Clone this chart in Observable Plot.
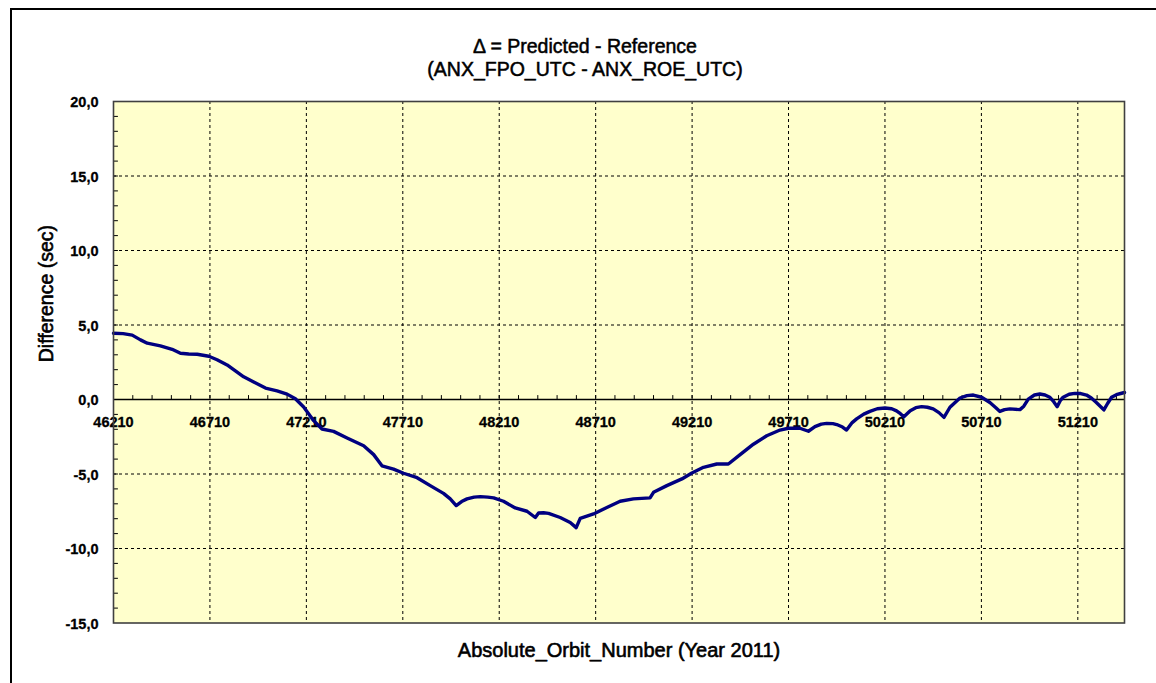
<!DOCTYPE html>
<html><head><meta charset="utf-8">
<script src="https://cdn.jsdelivr.net/npm/d3@7"></script>
<script src="https://cdn.jsdelivr.net/npm/@observablehq/plot@0.6"></script>
<style>
html,body{margin:0;padding:0;background:#fff;overflow:hidden;}
#wrap{position:relative;width:1156px;height:683px;overflow:hidden;font-family:"Liberation Sans",Arial,sans-serif;}
#frame{position:absolute;left:10px;top:8px;width:1300px;height:800px;border:2px solid #000;box-sizing:border-box;pointer-events:none;}
#title{height:90px;box-sizing:border-box;padding-top:35px;padding-left:14px;text-align:center;font-size:19.5px;line-height:23px;color:#000;-webkit-text-stroke:0.5px #000;}
#chart svg{display:block;}
</style></head><body>
<div id="wrap"><div id="frame"></div>
<div id="title"><div>Δ = Predicted - Reference</div><div>(ANX_FPO_UTC - ANX_ROE_UTC)</div></div>
<div id="chart"></div></div>
<script>
const orbits = [46210,46260,46307,46350,46385,46453,46514,46557,46600,46644,46704,46747,46799,46842,46885,46937,46998,47058,47110,47153,47196,47248,47291,47351,47421,47507,47559,47602,47662,47714,47784,47861,47921,47956,47987,48015,48043,48080,48112,48150,48181,48232,48293,48354,48397,48414,48440,48466,48526,48578,48609,48630,48699,48768,48837,48906,48992,49010,49079,49157,49209,49269,49338,49398,49459,49528,49597,49666,49709,49769,49813,49847,49880,49908,49940,49960,49990,50011,50040,50063,50100,50132,50170,50210,50245,50270,50290,50308,50341,50370,50400,50430,50460,50490,50516,50547,50575,50599,50635,50668,50711,50754,50785,50806,50830,50858,50910,50930,50953,50985,51013,51040,51065,51085,51103,51120,51134,51165,51194,51225,51255,51280,51306,51330,51345,51365,51385,51410,51437,51452];
const diffs = [4.45,4.42,4.32,4.0,3.78,3.6,3.37,3.1,3.05,3.04,2.9,2.67,2.32,1.92,1.52,1.18,0.77,0.58,0.36,0.05,-0.5,-1.42,-1.98,-2.14,-2.58,-3.1,-3.7,-4.45,-4.67,-4.95,-5.25,-5.85,-6.3,-6.67,-7.12,-6.85,-6.67,-6.55,-6.52,-6.55,-6.6,-6.83,-7.28,-7.5,-7.92,-7.62,-7.6,-7.64,-7.92,-8.25,-8.6,-7.98,-7.68,-7.25,-6.83,-6.67,-6.6,-6.23,-5.78,-5.33,-4.93,-4.55,-4.33,-4.33,-3.7,-3.0,-2.43,-2.05,-1.93,-1.93,-2.13,-1.82,-1.65,-1.6,-1.62,-1.68,-1.85,-2.05,-1.55,-1.3,-0.98,-0.8,-0.62,-0.57,-0.62,-0.76,-0.95,-1.16,-0.75,-0.55,-0.48,-0.52,-0.63,-0.88,-1.2,-0.52,-0.18,0.1,0.26,0.3,0.15,-0.2,-0.55,-0.8,-0.68,-0.63,-0.68,-0.45,0.03,0.3,0.37,0.3,0.15,-0.15,-0.48,-0.05,0.15,0.35,0.41,0.4,0.3,0.1,-0.2,-0.5,-0.7,-0.25,0.15,0.32,0.42,0.47];

const xTicks = [46210,46710,47210,47710,48210,48710,49210,49710,50210,50710,51210];
const xTickLabels = ["46210","46710","47210","47710","48210","48710","49210","49710","50210","50710","51210"];
const yTicks = [20,15,10,5,0,-5,-10,-15];
const yTickLabels = ["20,0","15,0","10,0","5,0","0,0","-5,0","-10,0","-15,0"];
const yGridValues = [15,10,5,-5,-10];
const xGridValues = [46710,47210,47710,48210,48710,49210,49710,50210,50710,51210];
const xMinor = d3.range(46310, 51452, 100);
const yMinor = d3.range(-14, 20, 1);
const xDomain = [46210, 51452];
const yDomain = [-15, 20];
const titleY = "Difference (sec)";
const titleX = "Absolute_Orbit_Number (Year 2011)";

const data = orbits.map((o, i) => ({orbit: o, diff: diffs[i]}));
const tickShape = {draw(context, l) { context.moveTo(0, 0); context.lineTo(0, -l); }};

const chart = Plot.plot({
  width: 1156,
  height: 593,
  marginTop: 11,
  marginBottom: 60.5,
  marginLeft: 113,
  marginRight: 32,
  style: {fontFamily: '"Liberation Sans", Arial, sans-serif', background: "transparent", overflow: "visible", color: "#000"},
  x: {domain: xDomain, axis: null},
  y: {domain: yDomain, axis: null},
  marks: [
    Plot.frame({fill: "#FFFFCC"}),
    Plot.text(xTicks, {x: d => d, y: () => 0, dy: 23, text: xTickLabels, fontWeight: "bold", fontSize: 14.5, fill: "#000", stroke: "#000", strokeWidth: 0.3}),
    Plot.gridY(yGridValues, {stroke: "#000", strokeOpacity: 1, strokeWidth: 1, strokeDasharray: "3,3"}),
    Plot.gridX(xGridValues, {stroke: "#000", strokeOpacity: 1, strokeWidth: 1, strokeDasharray: "3,3"}),
    Plot.ruleY([0], {stroke: "#000", strokeWidth: 1.3}),
    Plot.vector(xMinor, {x: d => d, y: () => 0, length: 4, rotate: 0, anchor: "start", shape: tickShape, stroke: "#000", strokeWidth: 1}),
    Plot.vector(yMinor, {x: () => xDomain[0], y: d => d, length: 4, rotate: 90, anchor: "start", shape: tickShape, stroke: "#000", strokeWidth: 1}),
    Plot.line(data, {x: "orbit", y: "diff", stroke: "#000080", strokeWidth: 3.4, strokeLinejoin: "round"}),
    Plot.frame({stroke: "#404040", strokeWidth: 1.6}),
    Plot.text(yTicks, {x: () => xDomain[0], y: d => d, dy: 1, dx: -15, text: yTickLabels, textAnchor: "end", fontWeight: "bold", fontSize: 14.5, fill: "#000", stroke: "#000", strokeWidth: 0.3}),
    Plot.text([titleY], {frameAnchor: "left", rotate: -90, dx: -67, fontSize: 19.5, fill: "#000", stroke: "#000", strokeWidth: 0.6}),
    Plot.text([titleX], {frameAnchor: "bottom", dy: 33.5, fontSize: 20, fill: "#000", stroke: "#000", strokeWidth: 0.6})
  ]
});
document.getElementById("chart").appendChild(chart);
</script>
</body></html>
